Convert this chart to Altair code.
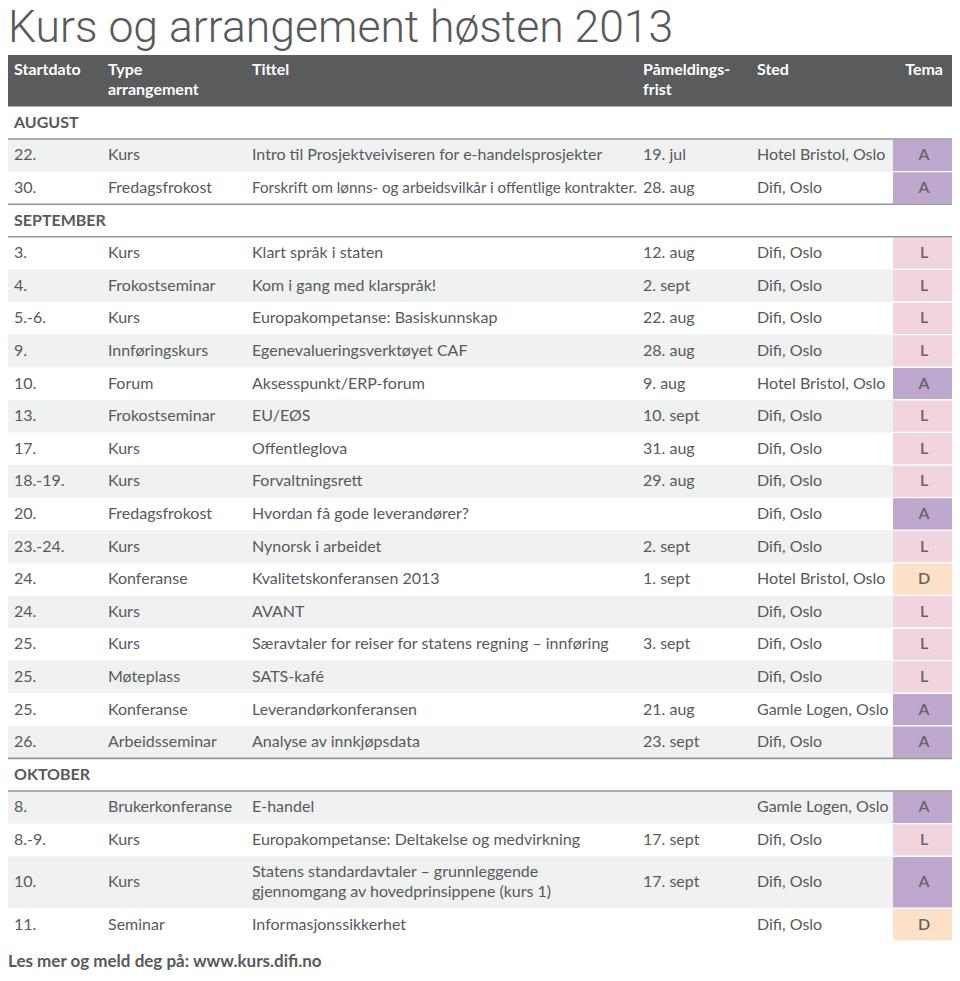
import altair as alt
import pandas as pd

# ---------------- data ----------------
title_text = "Kurs og arrangement høsten 2013"
footer_text = "Les mer og meld deg på: www.kurs.difi.no"
header_labels = ["Startdato", "Type\narrangement", "Tittel", "Påmeldings-\nfrist", "Sted", "Tema"]
months = ["AUGUST", "SEPTEMBER", "OKTOBER"]

event_month = [0, 0,
               1, 1, 1, 1, 1, 1, 1, 1, 1, 1, 1, 1, 1, 1, 1, 1,
               2, 2, 2, 2]
start_dates = ["22.", "30.",
               "3.", "4.", "5.-6.", "9.", "10.", "13.", "17.", "18.-19.", "20.", "23.-24.",
               "24.", "24.", "25.", "25.", "25.", "26.",
               "8.", "8.-9.", "10.", "11."]
types = ["Kurs", "Fredagsfrokost",
         "Kurs", "Frokostseminar", "Kurs", "Innføringskurs", "Forum", "Frokostseminar", "Kurs",
         "Kurs", "Fredagsfrokost", "Kurs", "Konferanse", "Kurs", "Kurs", "Møteplass",
         "Konferanse", "Arbeidsseminar",
         "Brukerkonferanse", "Kurs", "Kurs", "Seminar"]
titles = ["Intro til Prosjektveiviseren for e-handelsprosjekter",
          "Forskrift om lønns- og arbeidsvilkår i offentlige kontrakter.",
          "Klart språk i staten",
          "Kom i gang med klarspråk!",
          "Europakompetanse: Basiskunnskap",
          "Egenevalueringsverktøyet CAF",
          "Aksesspunkt/ERP-forum",
          "EU/EØS",
          "Offentleglova",
          "Forvaltningsrett",
          "Hvordan få gode leverandører?",
          "Nynorsk i arbeidet",
          "Kvalitetskonferansen 2013",
          "AVANT",
          "Særavtaler for reiser for statens regning – innføring",
          "SATS-kafé",
          "Leverandørkonferansen",
          "Analyse av innkjøpsdata",
          "E-handel",
          "Europakompetanse: Deltakelse og medvirkning",
          "Statens standardavtaler – grunnleggende\ngjennomgang av hovedprinsippene (kurs 1)",
          "Informasjonssikkerhet"]
deadlines = ["19. jul", "28. aug",
             "12. aug", "2. sept", "22. aug", "28. aug", "9. aug", "10. sept", "31. aug", "29. aug",
             "", "2. sept", "1. sept", "", "3. sept", "", "21. aug", "23. sept",
             "", "17. sept", "17. sept", ""]
places = ["Hotel Bristol, Oslo", "Difi, Oslo",
          "Difi, Oslo", "Difi, Oslo", "Difi, Oslo", "Difi, Oslo", "Hotel Bristol, Oslo",
          "Difi, Oslo", "Difi, Oslo", "Difi, Oslo", "Difi, Oslo", "Difi, Oslo",
          "Hotel Bristol, Oslo", "Difi, Oslo", "Difi, Oslo", "Difi, Oslo",
          "Gamle Logen, Oslo", "Difi, Oslo",
          "Gamle Logen, Oslo", "Difi, Oslo", "Difi, Oslo", "Difi, Oslo"]
themes = ["A", "A",
          "L", "L", "L", "L", "A", "L", "L", "L", "A", "L", "D", "L", "L", "L", "A", "A",
          "A", "L", "A", "D"]
theme_keys = ["A", "L", "D"]
theme_colors = ["#bda7cc", "#f1d4dd", "#fde2c8"]

# ---------------- layout / style ----------------
TEXT = "#58595b"
FONT = "Lato"
FS = 16
TIGHT = {(1, 2): 15.2}   # (event, column) cells set tighter, as in the original
LEFT, RIGHT = 3, 955
TEMA_L = 893
COL_X = [14, 108, 252, 643, 757]
TEMA_CX = 924
TOP = 106.4
ROW_H = 32.6
LINE_H = 20
W, H = 944, 965

# reference-picture coordinates -> plot area (page has an 8px margin)
xs = alt.Scale(domain=[8, 8 + W], range=[0, W])
ys = alt.Scale(domain=[8, 8 + H], range=[0, H])


def X(f):
    return alt.X(f, type="quantitative", scale=xs, axis=None)


def Y(f):
    return alt.Y(f, type="quantitative", scale=ys, axis=None)


bg_rows, tema_rows, line_rows, text_rows, month_rows = [], [], [], [], []
y = TOP
idx = 0
ev = 0
for m, mname in enumerate(months):
    if m > 0:
        line_rows.append({"x": LEFT, "x2": RIGHT, "y": y})
    month_rows.append({"x": COL_X[0], "y": y + ROW_H / 2, "t": mname})
    y += ROW_H
    idx += 1
    line_rows.append({"x": LEFT, "x2": RIGHT, "y": y})
    while ev < len(event_month) and event_month[ev] == m:
        nlines = titles[ev].count("\n") + 1
        h = ROW_H if nlines == 1 else ROW_H + 19.5 * (nlines - 1)
        top, bot = y, y + h
        cy = (top + bot) / 2
        if idx % 2 == 1:
            bg_rows.append({"x": LEFT, "x2": TEMA_L, "y": top, "y2": bot})
        tema_rows.append({"x": TEMA_L, "x2": RIGHT, "y": top + 0.7, "y2": bot - 0.7,
                          "theme": themes[ev], "cx": TEMA_CX, "cy": cy})
        cells = [start_dates[ev], types[ev], titles[ev], deadlines[ev], places[ev]]
        for c, (cx, val) in enumerate(zip(COL_X, cells)):
            lines = val.split("\n")
            for k, ln in enumerate(lines):
                off = (k - (len(lines) - 1) / 2) * LINE_H
                text_rows.append({"x": cx, "y": cy + off, "t": ln,
                                  "fs": TIGHT.get((ev, c), FS)})
        y = bot
        idx += 1
        ev += 1

header_rows = []
hx = COL_X + [943]
for k, (lab, cx) in enumerate(zip(header_labels, hx)):
    for j, ln in enumerate(lab.split("\n")):
        header_rows.append({"x": cx, "y": 70 + j * 20, "t": ln,
                            "al": "right" if k == len(header_labels) - 1 else "left"})

# ---------------- layers ----------------
header_band = alt.Chart(pd.DataFrame([{"x": LEFT, "x2": RIGHT, "y": 55, "y2": 106.4}])).mark_rect(
    color="#5a5b5d").encode(x=X("x"), x2="x2", y=Y("y"), y2="y2")

bg = alt.Chart(pd.DataFrame(bg_rows)).mark_rect(color="#f0f1f1").encode(
    x=X("x"), x2="x2", y=Y("y"), y2="y2")

tema_df = pd.DataFrame(tema_rows)
tema = alt.Chart(tema_df).mark_rect().encode(
    x=X("x"), x2="x2", y=Y("y"), y2="y2",
    color=alt.Color("theme:N", scale=alt.Scale(domain=theme_keys, range=theme_colors), legend=None))

tema_txt = alt.Chart(tema_df).mark_text(font=FONT, fontSize=FS, fontWeight=600, color="#636466",
                                        align="center", baseline="middle").encode(
    x=X("cx"), y=Y("cy"), text="theme:N")

lines = alt.Chart(pd.DataFrame(line_rows)).mark_rule(color="#939598", strokeWidth=1.6).encode(
    x=X("x"), x2="x2", y=Y("y"))

body = alt.Chart(pd.DataFrame(text_rows)).mark_text(font=FONT, color=TEXT,
                                                    align="left", baseline="middle").encode(
    x=X("x"), y=Y("y"), text="t:N", size=alt.Size("fs:Q", scale=None, legend=None))

month_txt = alt.Chart(pd.DataFrame(month_rows)).mark_text(font=FONT, fontSize=FS, fontWeight="bold",
                                                          color=TEXT, align="left",
                                                          baseline="middle").encode(
    x=X("x"), y=Y("y"), text="t:N")

hdr_df = pd.DataFrame(header_rows)
hdr_l = alt.Chart(hdr_df[hdr_df.al == "left"]).mark_text(font=FONT, fontSize=FS, fontWeight="bold",
                                                         color="white", align="left",
                                                         baseline="middle").encode(
    x=X("x"), y=Y("y"), text="t:N")
hdr_r = alt.Chart(hdr_df[hdr_df.al == "right"]).mark_text(font=FONT, fontSize=FS, fontWeight="bold",
                                                          color="white", align="right",
                                                          baseline="middle").encode(
    x=X("x"), y=Y("y"), text="t:N")

title = alt.Chart(pd.DataFrame([{"x": 8, "y": 42, "t": title_text}])).mark_text(
    font="Roboto", fontSize=44.5, fontWeight=300, color=TEXT, align="left",
    baseline="alphabetic").encode(
    x=X("x"), y=Y("y"), text="t:N")

footer = alt.Chart(pd.DataFrame([{"x": 8, "y": 962, "t": footer_text}])).mark_text(
    font=FONT, fontSize=17, fontWeight="bold", color=TEXT, align="left", baseline="middle").encode(
    x=X("x"), y=Y("y"), text="t:N")

chart = alt.layer(header_band, bg, tema, lines, tema_txt, body, month_txt, hdr_l, hdr_r, title,
                  footer).properties(
    width=W, height=H, autosize=alt.AutoSizeParams(type="none"), padding=0,
    background="white").configure_view(stroke=None)

chart.save("out.html", embed_options={"renderer": "svg", "actions": False})
